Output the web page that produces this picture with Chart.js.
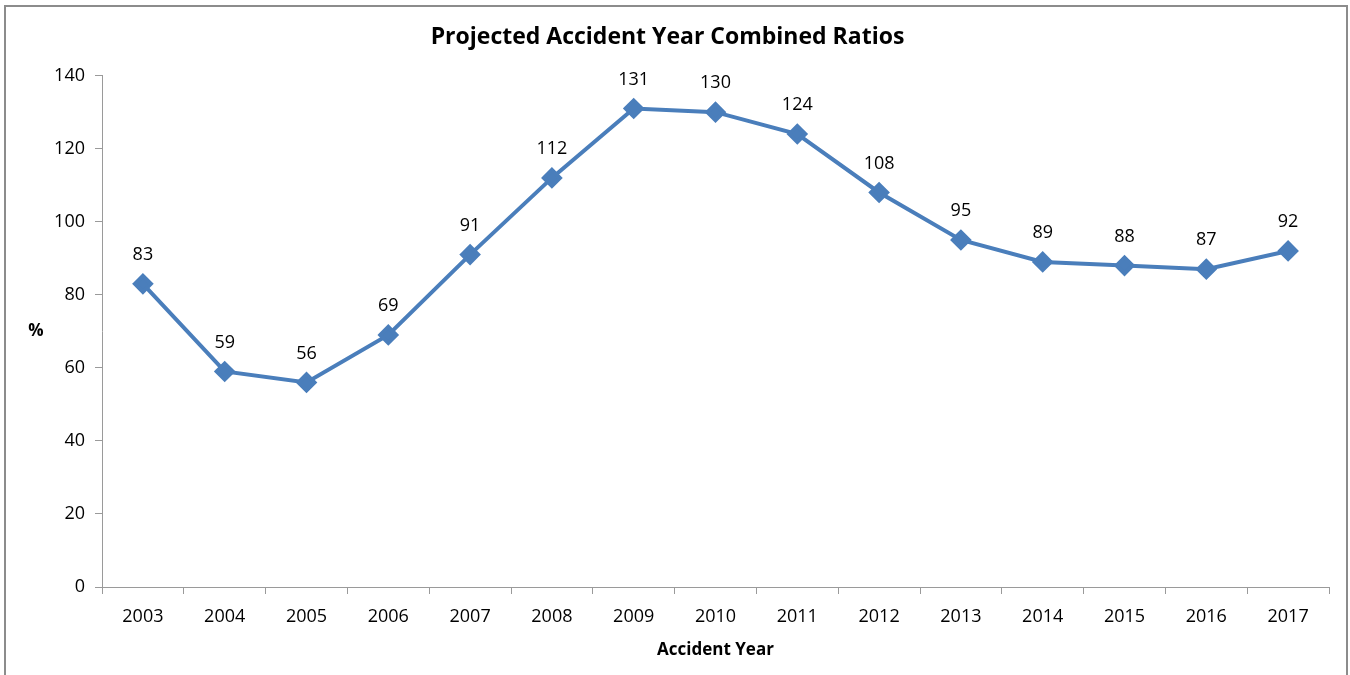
<!DOCTYPE html>
<html>
<head>
<meta charset="utf-8">
<script src="https://cdn.jsdelivr.net/npm/chart.js@4.4.1/dist/chart.umd.min.js"></script>
<style>
  body { margin: 0; background: #fff; overflow: hidden; }
  #frame {
    position: absolute; left: 4px; top: 5px;
    width: 1340px; height: 675px;
    border: 2px solid #8c8c8c; border-bottom: none;
  }
</style>
</head>
<body>
<div id="frame"><canvas id="ratioChart" width="1340" height="673"></canvas></div>
<script>
const years = ['2003', '2004', '2005', '2006', '2007', '2008', '2009', '2010',
  '2011', '2012', '2013', '2014', '2015', '2016', '2017'];
const combinedRatios = [83, 59, 56, 69, 91, 112, 131, 130, 124, 108, 95, 89, 88, 87, 92];
const yTicks = [0, 20, 40, 60, 80, 100, 120, 140];

const FONT = "'Open Sans', 'Noto Sans', sans-serif";

// value labels above the points and the flat "%" axis label
const labelPlugin = {
  id: 'pointLabels',
  afterDatasetsDraw(chart) {
    const ctx = chart.ctx;
    const meta = chart.getDatasetMeta(0);
    ctx.save();
    ctx.fillStyle = '#000';
    ctx.font = '18px ' + FONT;
    ctx.textAlign = 'center';
    ctx.textBaseline = 'middle';
    meta.data.forEach((pt, i) => {
      ctx.fillText(String(combinedRatios[i]), pt.x, pt.y - 29);
    });
    const y = chart.scales.y;
    ctx.font = 'bold 17px ' + FONT;
    ctx.fillText('%', 30, (y.top + y.bottom) / 2);
    ctx.restore();
  }
};

const ctx = document.getElementById('ratioChart').getContext('2d');
new Chart(ctx, {
  type: 'line',
  data: {
    labels: years,
    datasets: [{
      label: 'Combined Ratio',
      data: combinedRatios,
      borderColor: '#4a7ebb',
      backgroundColor: '#4a7ebb',
      borderWidth: 4,
      pointStyle: 'rectRot',
      pointRadius: 8,
      pointHoverRadius: 8,
      tension: 0,
      fill: false
    }]
  },
  options: {
    responsive: false,
    animation: false,
    layout: { padding: { left: 0, right: 17, top: 0, bottom: 16 } },
    plugins: {
      legend: { display: false },
      tooltip: { enabled: false },
      title: {
        display: true,
        text: 'Projected Accident Year Combined Ratios',
        color: '#000',
        font: { family: FONT, size: 23, weight: 'bold' },
        padding: { top: 17, bottom: 24 }
      }
    },
    scales: {
      x: {
        offset: true,
        grid: { offset: true, drawOnChartArea: false, tickLength: 7, color: '#9a9a9a' },
        border: { color: '#9a9a9a' },
        ticks: { color: '#000', font: { family: FONT, size: 18 }, padding: 12 },
        title: {
          display: true, text: 'Accident Year', color: '#000',
          font: { family: FONT, size: 17, weight: 'bold' }, padding: { top: 0 }
        }
      },
      y: {
        min: 0,
        max: 140,
        afterBuildTicks(scale) { scale.ticks = yTicks.map(v => ({ value: v })); },
        afterFit(scale) { scale.width = 96; },
        grid: { drawOnChartArea: false, tickLength: 7, color: '#9a9a9a' },
        border: { color: '#9a9a9a' },
        ticks: { color: '#000', font: { family: FONT, size: 18 }, padding: 10 }
      }
    }
  },
  plugins: [labelPlugin]
});
</script>
</body>
</html>
